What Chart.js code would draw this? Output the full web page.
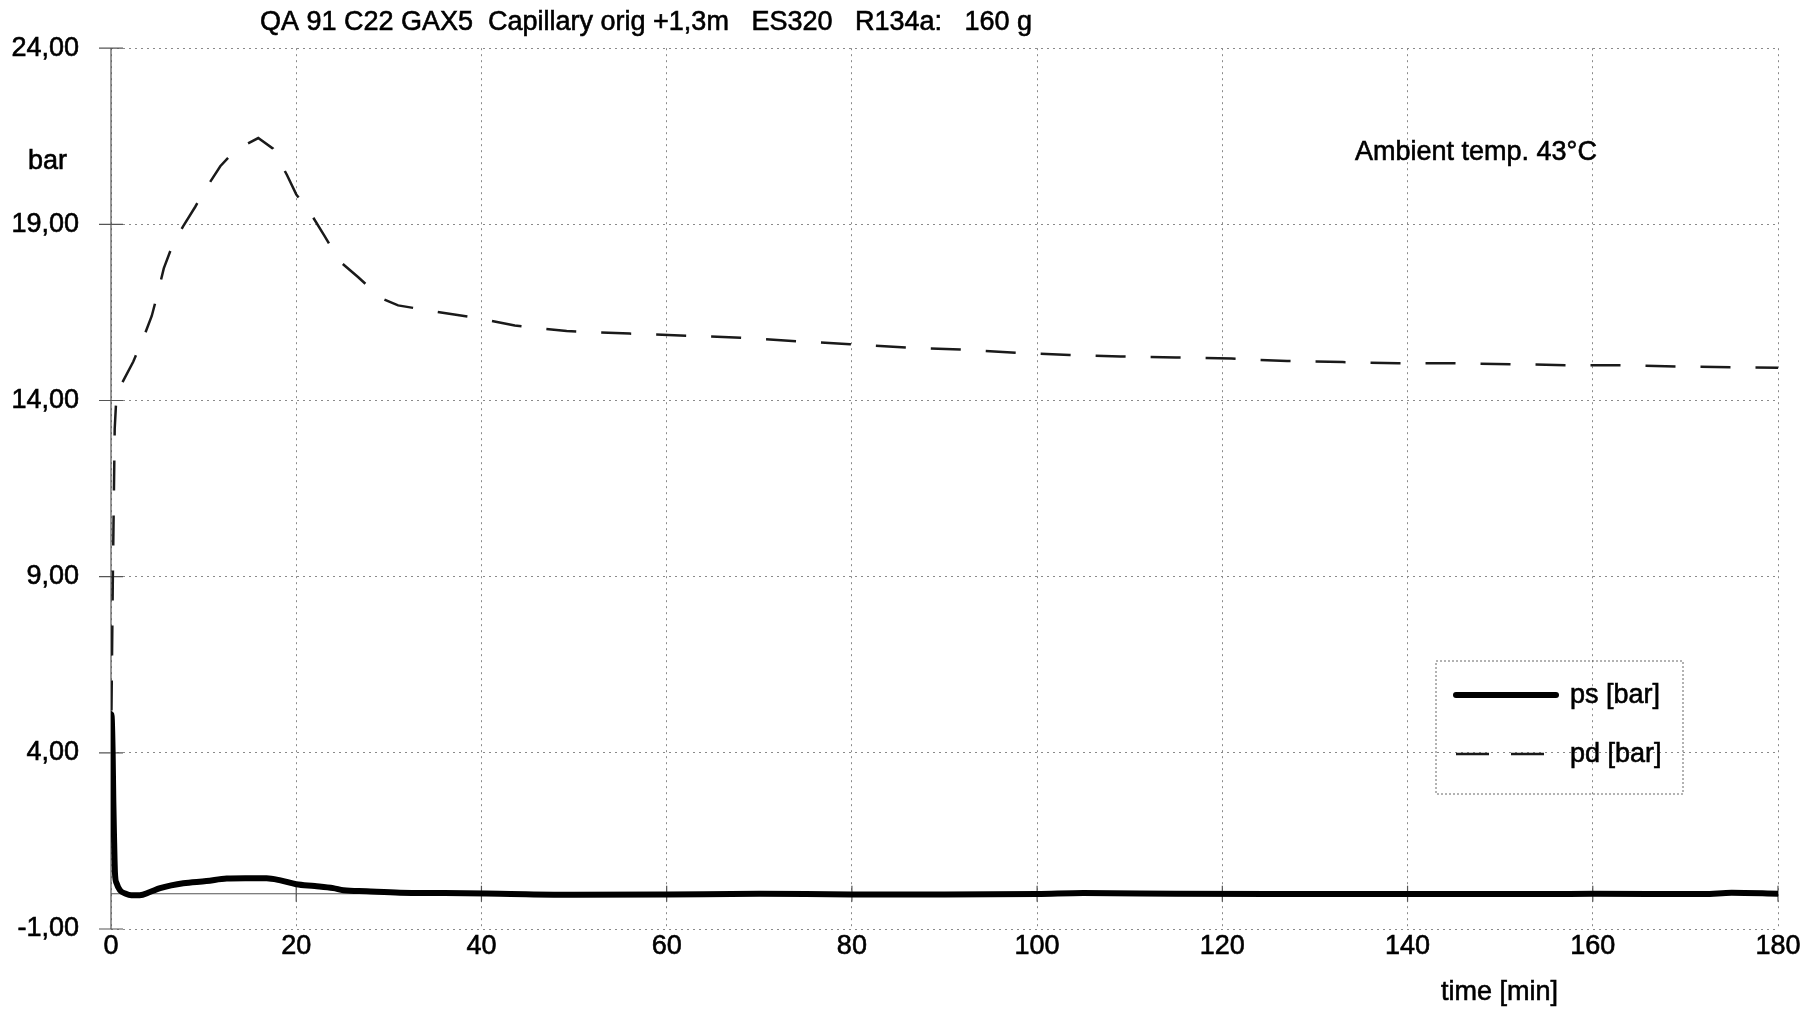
<!DOCTYPE html>
<html>
<head>
<meta charset="utf-8">
<script src="https://cdn.jsdelivr.net/npm/chart.js@4.4.1/dist/chart.umd.min.js"></script>
<style>
html, body { margin: 0; background: #fff; }
#wrap { width: 1814px; height: 1013px; }
</style>
</head>
<body>
<div id="wrap"><canvas id="chart"></canvas></div>
<script>
const TITLE = 'QA 91 C22 GAX5  Capillary orig +1,3m   ES320   R134a:   160 g';
const NOTE = 'Ambient temp. 43°C';
const Y_LABEL = 'bar';
const X_LABEL = 'time [min]';
const SERIES_NAMES = ['ps [bar]', 'pd [bar]'];

const xTicks = [0, 20, 40, 60, 80, 100, 120, 140, 160, 180];
const yTicks = [-1, 4, 9, 14, 19, 24];

// suction pressure
const psTime   = [0, 0.07, 0.18, 0.25, 0.32, 0.43, 0.6, 0.97, 1.6, 2.2, 3.1, 4.2, 5.3, 6.5, 7.8, 10.3, 12.5, 14.5, 16.8, 18.3, 20, 22, 24, 25.1, 27.6, 31.2, 36, 42, 50, 60, 70, 80, 90, 100, 105, 115, 125, 140, 155, 160, 172, 175, 180];
const psValues = [5.1, 5.04, 3.97, 2.64, 1.71, 0.58, 0.3, 0.1, 0.0, -0.04, -0.04, 0.05, 0.16, 0.24, 0.3, 0.36, 0.43, 0.44, 0.44, 0.38, 0.27, 0.22, 0.16, 0.1, 0.07, 0.03, 0.02, 0.0, -0.03, -0.02, 0.0, -0.02, -0.02, -0.01, 0.02, 0.0, -0.01, -0.01, -0.01, 0.0, -0.01, 0.03, 0.0];

// discharge pressure
const pdTime   = [0.05, 0.2, 0.4, 0.6, 1.4, 2.4, 3.6, 4.4, 5.1, 5.7, 6.7, 7.8, 9.1, 10.2, 11.8, 13.4, 15.9, 17.5, 19.0, 20.0, 21.7, 23.1, 24.7, 26.7, 29.2, 31.0, 34.2, 39.8, 43.6, 49.2, 56, 62.3, 68, 74.2, 79.8, 86, 91.7, 98, 103.5, 109, 115, 121, 127, 133, 139, 145, 151.6, 158, 164, 170, 180];
const pdValues = [5.2, 9.0, 13.2, 14.2, 14.6, 15.1, 15.85, 16.4, 17.1, 17.75, 18.45, 18.95, 19.5, 20.0, 20.65, 21.1, 21.45, 21.15, 20.4, 19.85, 19.25, 18.65, 17.95, 17.5, 16.9, 16.7, 16.56, 16.33, 16.13, 15.97, 15.9, 15.84, 15.78, 15.68, 15.6, 15.5, 15.45, 15.35, 15.29, 15.25, 15.22, 15.19, 15.12, 15.09, 15.06, 15.06, 15.03, 15.0, 15.0, 14.96, 14.93];

const FONT = '"Liberation Sans", Arial, sans-serif';
const GRID = '#8a8a8a';
const AXIS = '#555';
const FS = 27;

function pts(xs, ys) { return xs.map((x, i) => ({ x, y: ys[i] })); }
function fmtY(v) { return v.toFixed(2).replace('.', ','); }

// scanned print looks heavier, so texts get a thin outline
function text(ctx, s, x, y) {
    ctx.strokeText(s, x, y);
    ctx.fillText(s, x, y);
}

const axes = {
    id: 'axes',
    beforeDatasetsDraw(chart) {
        const { ctx, chartArea: a, scales: { x, y } } = chart;
        const y0 = y.getPixelForValue(0);
        ctx.save();
        ctx.strokeStyle = AXIS;
        ctx.lineWidth = 1.2;
        ctx.beginPath();
        ctx.moveTo(a.left, a.top); ctx.lineTo(a.left, a.bottom);
        ctx.moveTo(a.left, y0); ctx.lineTo(a.right, y0);
        yTicks.forEach(v => {
            const py = y.getPixelForValue(v);
            ctx.moveTo(a.left - 12, py); ctx.lineTo(a.left + 12, py);
        });
        xTicks.forEach(v => {
            const px = x.getPixelForValue(v);
            ctx.moveTo(px, y0 - 8); ctx.lineTo(px, y0 + 8);
        });
        ctx.stroke();
        ctx.restore();
    },
    afterDraw(chart) {
        const { ctx } = chart;
        ctx.save();
        ctx.fillStyle = '#000';
        ctx.strokeStyle = '#000';
        ctx.lineWidth = 0.6;
        ctx.textBaseline = 'middle';
        ctx.font = FS + 'px ' + FONT;

        ctx.textAlign = 'center';
        text(ctx, TITLE, 646, 23);

        ctx.textAlign = 'left';
        text(ctx, Y_LABEL, 28, 162);
        text(ctx, NOTE, 1355, 153);
        text(ctx, X_LABEL, 1441, 993);

        // legend box
        ctx.strokeStyle = '#666';
        ctx.lineWidth = 1;
        ctx.setLineDash([2, 2]);
        ctx.strokeRect(1436, 661, 247, 133);

        const ds = chart.data.datasets;
        const rows = [695, 754];
        rows.forEach((ry, i) => {
            ctx.strokeStyle = ds[i].borderColor;
            ctx.lineWidth = ds[i].borderWidth;
            ctx.setLineDash(i === 0 ? [] : [33, 22]);
            ctx.lineCap = i === 0 ? 'round' : 'butt';
            ctx.beginPath();
            ctx.moveTo(1456, ry); ctx.lineTo(1556, ry);
            ctx.stroke();
            ctx.setLineDash([]);
            ctx.strokeStyle = '#000';
            ctx.lineWidth = 0.6;
            text(ctx, SERIES_NAMES[i], 1570, ry + 1);
        });
        ctx.restore();
    }
};

const tickFont = { family: FONT, size: FS };

new Chart(document.getElementById('chart'), {
    type: 'line',
    data: {
        datasets: [
            {
                label: SERIES_NAMES[0],
                data: pts(psTime, psValues),
                borderColor: '#000',
                borderWidth: 6,
                pointRadius: 0,
                cubicInterpolationMode: 'monotone',
                borderCapStyle: 'round',
                borderJoinStyle: 'round'
            },
            {
                label: SERIES_NAMES[1],
                data: pts(pdTime, pdValues),
                borderColor: '#1a1a1a',
                borderWidth: 2.5,
                borderDash: [30, 25],
                pointRadius: 0,
                tension: 0
            }
        ]
    },
    options: {
        responsive: true,
        maintainAspectRatio: false,
        animation: false,
        layout: { padding: { top: 43, right: 36, left: 0, bottom: 0 } },
        plugins: {
            legend: { display: false },
            tooltip: { enabled: false }
        },
        scales: {
            x: {
                type: 'linear',
                min: 0,
                max: 180,
                afterBuildTicks: s => { s.ticks = xTicks.map(v => ({ value: v })); },
                afterFit: s => { s.height = 84; },
                grid: { color: GRID, lineWidth: 1, drawTicks: false },
                border: { display: false, dash: [2, 4] },
                ticks: { color: '#000', padding: 1, font: tickFont, textStrokeColor: '#000', textStrokeWidth: 0.6 }
            },
            y: {
                type: 'linear',
                min: -1,
                max: 24,
                afterBuildTicks: s => { s.ticks = yTicks.map(v => ({ value: v })); },
                afterFit: s => { s.width = 111; },
                grid: { color: GRID, lineWidth: 1, drawTicks: false },
                border: { display: false, dash: [2, 4] },
                ticks: { color: '#000', padding: 32, font: tickFont, textStrokeColor: '#000', textStrokeWidth: 0.6, callback: v => fmtY(v) }
            }
        }
    },
    plugins: [axes]
});
</script>
</body>
</html>
